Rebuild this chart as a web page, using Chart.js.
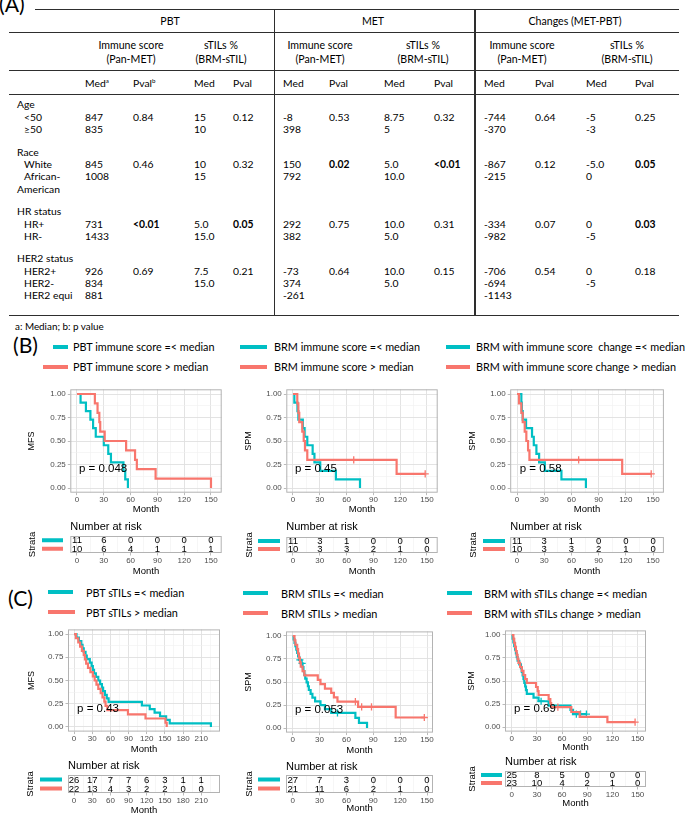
<!DOCTYPE html>
<html><head><meta charset="utf-8">
<script src="https://cdn.jsdelivr.net/npm/chart.js@4/dist/chart.umd.min.js"></script>
<style>
html,body{margin:0;padding:0;background:#fff;}
body{width:685px;height:814px;position:relative;overflow:hidden;}
#page{position:absolute;left:0;top:0;width:685px;height:814px;font-family:Lato,"Noto Sans",sans-serif;color:#000;}
.tx{position:absolute;white-space:nowrap;line-height:1;}
.ln{position:absolute;background:#2e2e2e;}
.sw{position:absolute;height:4px;}
canvas{position:absolute;}
</style></head><body><div id="page"></div>
<script>
// ================= DATA =================
// (A) table
const groupNames = ['PBT', 'MET', 'Changes (MET-PBT)'];
const measureLine1 = ['Immune score', 'sTILs %'];
const measureLine2 = ['(Pan-MET)', '(BRM-sTIL)'];
const rowLabels = ['Age','<50','\u226550','Race','White','African-','American','HR status','HR+','HR-','HER2 status','HER2+','HER2-','HER2 equi'];
const pbtImmMed = ['','847','835','','845','1008','','','731','1433','','926','834','881'];
const pbtImmP   = ['','0.84','','','0.46','','','','<0.01','','','0.69','',''];
const pbtTilMed = ['','15','10','','10','15','','','5.0','15.0','','7.5','15.0',''];
const pbtTilP   = ['','0.12','','','0.32','','','','0.05','','','0.21','',''];
const metImmMed = ['','-8','398','','150','792','','','292','382','','-73','374','-261'];
const metImmP   = ['','0.53','','','0.02','','','','0.75','','','0.64','',''];
const metTilMed = ['','8.75','5','','5.0','10.0','','','10.0','5.0','','10.0','5.0',''];
const metTilP   = ['','0.32','','','<0.01','','','','0.31','','','0.15','',''];
const chgImmMed = ['','-744','-370','','-867','-215','','','-334','-982','','-706','-694','-1143'];
const chgImmP   = ['','0.64','','','0.12','','','','0.07','','','0.54','',''];
const chgTilMed = ['','-5','-3','','-5.0','0','','','0','-5','','0','-5',''];
const chgTilP   = ['','0.25','','','0.05','','','','0.03','','','0.18','',''];
const footnote = 'a: Median; b: p value';

// (B) immune score Kaplan-Meier
const bL_tealT = [0,4,10,15,18,21,30,35,38,52,54,57];
const bL_tealS = [1,0.909,0.818,0.727,0.636,0.545,0.455,0.364,0.273,0.182,0.091,0];
const bL_redT  = [0,20,23,25,26,31,55,65,67,88,150];
const bL_redS  = [1,0.9,0.8,0.7,0.6,0.5,0.4,0.3,0.2,0.1,0];
const bM_tealT = [0,1.5,5,6,11,13,16,22,24,30.5,48,75];
const bM_tealS = [1,0.909,0.818,0.727,0.636,0.545,0.455,0.364,0.273,0.182,0.091,0];
const bM_redT  = [0,4.8,6,7,10.4,12,13.4,16,116,148];
const bM_redS  = [1,0.9,0.8,0.7,0.6,0.5,0.4,0.3,0.15,0.15];
const bM_redCensT = [68,148];
const bM_redCensS = [0.3,0.15];
const bR_tealT = [0,4.8,5.3,6.3,10,16.6,18.5,21.4,24.4,30.7,49,76];
const bR_tealS = [1,0.909,0.818,0.727,0.636,0.545,0.455,0.364,0.273,0.182,0.091,0];
const bR_redT  = [0,2.2,4.8,6.3,8.5,10.3,12.2,13.7,116,148];
const bR_redS  = [1,0.9,0.8,0.7,0.6,0.5,0.4,0.3,0.15,0.15];
const bR_redCensT = [68,148];
const bR_redCensS = [0.3,0.15];

// (C) sTILs Kaplan-Meier
const cL_tealT = [0,4,8,12,14,16,19,21,26,29,31,33,36,40,43,46,48,51,54,57,112,125,133,142,152,158,226];
const cL_tealS = [1,.962,.923,.885,.846,.808,.769,.731,.692,.654,.615,.577,.538,.5,.462,.423,.385,.346,.308,.269,.231,.192,.154,.115,.077,.038,0];
const cL_redT  = [0,3,7,10,13,16,18,20,23,27,31,34,37,40,44,47,50,52,55,89,118,151,153];
const cL_redS  = [1,.955,.909,.864,.818,.773,.727,.682,.636,.591,.545,.5,.455,.409,.364,.318,.273,.227,.182,.136,.091,.045,0];
const cM_tealT = [0,1,2,3,4,5,6,7,9,11,12,13,14,15.5,17,18,20,22,25,31,36,43,70,74,83];
const cM_tealS = [1,.963,.926,.889,.852,.815,.778,.741,.702,.661,.619,.578,.537,.495,.454,.413,.372,.330,.289,.248,.206,.165,.110,.055,0];
const cM_tealCensT = [8,10.5,50];
const cM_tealCensS = [.741,.702,.165];
const cM_redT  = [0,2,3,5,6,7,8,9,11,13,28,31,36,43,46,50,73,115,147];
const cM_redS  = [1,.952,.905,.857,.810,.762,.714,.667,.619,.571,.524,.476,.429,.381,.333,.286,.229,.114,.114];
const cM_redCensT = [70,77,88,147];
const cM_redCensS = [.286,.229,.229,.114];
const cR_tealT = [0,1,2,3,4,5,6,7,9,11,12,13,14,15,16,17,18,26,32,44,70,73,89];
const cR_tealS = [1,.96,.92,.88,.84,.8,.76,.72,.68,.64,.6,.56,.52,.48,.44,.40,.36,.32,.28,.233,.187,.14,.14];
const cR_tealCensT = [35,77,82,89];
const cR_tealCensS = [.28,.14,.14,.14];
const cR_redT  = [0,2,3,4,5,6,7,8,10,12,14,16,18,29,31,32,44,46,47,71,81,114,147];
const cR_redS  = [1,.957,.913,.870,.826,.783,.739,.696,.652,.609,.565,.522,.478,.435,.391,.348,.304,.261,.217,.163,.109,.054,.054];
const cR_redCensT = [55,147];
const cR_redCensS = [.217,.054];

// Numbers at risk
const riskTimesB  = [0,30,60,90,120,150];
const riskTimesCL = [0,30,60,90,120,150,180,210];
const bL_riskTeal = [11,6,0,0,0,0];
const bL_riskRed  = [10,6,4,1,1,1];
const bM_riskTeal = [11,3,1,0,0,0];
const bM_riskRed  = [10,3,3,2,1,0];
const bR_riskTeal = [11,3,1,0,0,0];
const bR_riskRed  = [10,3,3,2,1,0];
const cL_riskTeal = [26,17,7,7,6,3,1,1];
const cL_riskRed  = [22,13,4,3,2,2,0,0];
const cM_riskTeal = [27,7,3,0,0,0];
const cM_riskRed  = [21,11,6,2,1,0];
const cR_riskTeal = [25,8,5,0,0,0];
const cR_riskRed  = [23,10,4,2,1,0];

// Legends and p-values
const legendB = [['PBT immune score =< median','PBT immune score > median'],
                 ['BRM immune score =< median','BRM immune score > median'],
                 ['BRM with immune score  change =< median','BRM with immune score change > median']];
const legendC = [['PBT sTILs =< median','PBT sTILs > median'],
                 ['BRM sTILs =< median','BRM sTILs > median'],
                 ['BRM with sTILs change =< median','BRM with sTILs change > median']];
const pvalB = ['p = 0.048','p = 0.45','p = 0.58'];
const pvalC = ['p = 0.43','p = 0.053','p = 0.69'];
const yTitlesB = ['MFS','SPM','SPM'];
const yTitlesC = ['MFS','SPM','SPM'];

// ================= RENDER =================
const TEAL = '#00BFC4', RED = '#F8766D';
const page = document.getElementById('page');
const FAM = 'Lato, "Noto Sans", sans-serif';
const mctx = document.createElement('canvas').getContext('2d');
function fit(text, target, weight) {
  mctx.font = (weight || 'normal') + ' 100px Lato';
  return 100 * target / mctx.measureText(text).width;
}
function addText(html, x, y, size, opts) {
  opts = opts || {};
  const d = document.createElement('div');
  d.className = 'tx';
  d.innerHTML = html;
  d.style.left = x + 'px'; d.style.top = y + 'px';
  d.style.fontSize = size + 'px';
  if (opts.bold) d.style.fontWeight = 'bold';
  d.style.transform = 'translate(' + (opts.center ? '-50%' : '0') + ',-50%)';
  page.appendChild(d);
  return d;
}
function esc(s){return s.replace(/&/g,'&amp;').replace(/</g,'&lt;').replace(/>/g,'&gt;').replace(/  /g,' &nbsp;');}
function hline(x1, x2, y) { const d=document.createElement('div'); d.className='ln'; d.style.left=x1+'px'; d.style.width=(x2-x1)+'px'; d.style.top=(y-0.8)+'px'; d.style.height='1.6px'; page.appendChild(d); }
function vline(x, y1, y2) { const d=document.createElement('div'); d.className='ln'; d.style.left=(x-0.8)+'px'; d.style.width='1.6px'; d.style.top=y1+'px'; d.style.height=(y2-y1)+'px'; page.appendChild(d); }

// ----- Table (A)
const hdrSize = fit('Changes (MET-PBT)', 93);
const bodySize = fit('American', 43);
const footSize = fit(footnote, 89);
const panelSize = fit('(B)', 25);
addText('(A)', -1, 5, panelSize);
hline(35, 679, 9.3); hline(9, 679, 32.3); hline(9, 679, 70.7); hline(9, 679, 94.3); hline(9, 679, 315.7);
vline(274.5, 9.3, 315.7); vline(475, 9.3, 315.7);
const groupX = [170, 373, 575];
groupNames.forEach((g,i) => addText(esc(g), groupX[i], 20.5, hdrSize, {center:true}));
const measureX = [131, 221, 320, 423, 522, 627];
measureX.forEach((x,i) => { addText(esc(measureLine1[i%2]), x, 45, hdrSize, {center:true}); addText(esc(measureLine2[i%2]), x, 59, hdrSize, {center:true}); });
const colX = [85,133,194,233,283,329,384,434,484,535,586,635];
const supA = '<span style="font-size:0.6em;position:relative;top:-0.5em">a</span>';
const supB = '<span style="font-size:0.6em;position:relative;top:-0.5em">b</span>';
colX.forEach((x,i) => {
  let t = (i % 2 === 0) ? 'Med' : 'Pval';
  if (i === 0) t += supA; if (i === 1) t += supB;
  addText(t, x, 82.5, bodySize);
});
const rowY = [104,117,129,152,164,176,189,211,224,236,258,271,283,295];
const indentRows = [1,2,4,5,8,9,11,12,13];
rowLabels.forEach((r,i) => addText(esc(r), indentRows.includes(i) ? 24 : 17, rowY[i], bodySize));
const valueCols = [pbtImmMed,pbtImmP,pbtTilMed,pbtTilP,metImmMed,metImmP,metTilMed,metTilP,chgImmMed,chgImmP,chgTilMed,chgTilP];
valueCols.forEach((col,ci) => col.forEach((v,ri) => {
  if (!v) return;
  const isP = ci % 2 === 1;
  const bold = isP && parseFloat(v.replace('<','')) <= 0.05;
  addText(esc(v), colX[ci], rowY[ri], bodySize, {bold});
}));
addText(esc(footnote), 15, 327, footSize);

// ----- Legends
const legSize = fit(legendB[0][0], 142);
addText('(B)', 13, 346, panelSize);
addText('(C)', 8, 599, panelSize);
function legend(texts, y1, y2, sw1, sw2, tx) {
  [[sw1,y1,TEAL,texts[0]],[sw2,y2,RED,texts[1]]].forEach(([sw,y,c,t]) => {
    const d = document.createElement('div'); d.className='sw'; d.style.left=sw[0]+'px'; d.style.width=(sw[1]-sw[0])+'px'; d.style.top=(y-2)+'px'; d.style.background=c; page.appendChild(d);
    addText(esc(t), tx, y+0.5, legSize);
  });
}
legend(legendB[0], 346.5, 366.5, [53,68], [43,68], 73);
legend(legendB[1], 346.5, 366.5, [240,267], [240,267], 274);
legend(legendB[2], 346.5, 366.5, [446,470], [446,470], 476);
legend(legendC[0], 592, 612, [48,73], [48,75], 86);
legend(legendC[1], 593, 613, [243,268], [243,268], 281);
legend(legendC[2], 593, 613, [447,472], [447,472], 484);

// ----- Chart helpers
function tickList(min, max, step, last) {
  const out = [];
  for (let k = -1; k <= Math.round(last/step*2) + 1; k++) {
    const v = +(k*step/2).toFixed(6);
    if (v >= min - 1e-9 && v <= max + 1e-9) out.push(v);
  }
  return out;
}
function isMajor(v, step, last) { return v >= -1e-9 && v <= last + 1e-9 && Math.abs(v/step - Math.round(v/step)) < 1e-6; }
function pts(t, s) { return t.map((v,i) => ({x:v, y:s[i]})); }
const TICKFONT = {family:'"Liberation Sans", Arial, sans-serif', size:8};
function gridOpts(step, last) {
  return {
    drawTicks:true, tickLength:2.5,
    color: c => (c.tick && isMajor(c.tick.value, step, last)) ? '#e0e0e0' : '#f0f0f0',
    lineWidth: c => (c.tick && isMajor(c.tick.value, step, last)) ? 0.9 : 0.6,
    tickColor: c => (c.tick && isMajor(c.tick.value, step, last)) ? '#b3b3b3' : 'rgba(0,0,0,0)',
    tickWidth: 0.9
  };
}
function xScaleOpts(g, xH) {
  return {
    type:'linear', min:g.xmin, max:g.xmax,
    afterBuildTicks: s => { s.ticks = tickList(g.xmin, g.xmax, 30, g.last).map(v => ({value:v})); },
    afterFit: s => { s.height = xH; },
    ticks: {autoSkip:false, maxRotation:0, minRotation:0, padding:0, color:'#4d4d4d', font:TICKFONT,
      callback: v => isMajor(v, 30, g.last) ? String(Math.round(v)) : ''},
    grid: gridOpts(30, g.last),
    border: {display:false},
    title: {display:true, text:'Month', color:'#000', font:{family:'"Liberation Sans", Arial, sans-serif', size:9.5}, padding:0}
  };
}
const kmPlugin = {
  id:'km',
  afterDraw(chart, args, o) {
    const {ctx, chartArea:a, scales:{x,y}} = chart;
    ctx.save();
    ctx.strokeStyle = '#b3b3b3'; ctx.lineWidth = 1;
    ctx.strokeRect(a.left+0.5, a.top+0.5, a.right-a.left-1, a.bottom-a.top-1);
    ctx.fillStyle = '#000'; ctx.font = '11.5px "Liberation Sans", Arial, sans-serif';
    ctx.textAlign = 'left'; ctx.textBaseline = 'middle';
    ctx.fillText(o.text, x.getPixelForValue(o.px), y.getPixelForValue(o.py));
    ctx.restore();
  }
};
const riskPlugin = {
  id:'risk',
  afterDraw(chart, args, o) {
    const {ctx, chartArea:a, scales:{x,y}} = chart;
    ctx.save();
    ctx.strokeStyle = '#b3b3b3'; ctx.lineWidth = 1;
    ctx.strokeRect(a.left+0.5, a.top+0.5, a.right-a.left-1, a.bottom-a.top-1);
    ctx.textAlign = 'center'; ctx.textBaseline = 'middle';
    o.rows.forEach(r => {
      const py = y.getPixelForValue(r.level);
      ctx.fillStyle = r.color; ctx.fillRect(o.swL, py-2, o.swR-o.swL, 4);
      ctx.fillStyle = '#000'; ctx.font = '9.5px "Liberation Sans Narrow", "Liberation Sans", Arial, sans-serif';
      r.vals.forEach((v,i) => ctx.fillText(String(v), x.getPixelForValue(o.times[i]), py+0.5));
    });
    ctx.save();
    ctx.translate(o.strataX, (a.top+a.bottom)/2); ctx.rotate(-Math.PI/2);
    ctx.font = '9.5px "Liberation Sans", Arial, sans-serif'; ctx.fillStyle = '#000';
    ctx.fillText('Strata', 0, 0);
    ctx.restore();
    ctx.font = '11px "Liberation Sans", Arial, sans-serif'; ctx.textAlign = 'left'; ctx.fillStyle = '#000';
    ctx.fillText('Number at risk', a.left, o.narY);
    ctx.restore();
  }
};
function makeCanvas(l, t, w, h) {
  const cv = document.createElement('canvas');
  cv.width = w; cv.height = h; cv.style.left = l+'px'; cv.style.top = t+'px';
  cv.style.width = w+'px'; cv.style.height = h+'px';
  page.appendChild(cv); return cv;
}
function drawKM(g, series, pText, yTitle) {
  const cl = Math.floor(g.yTitleX - 5.4);
  const ct = Math.floor(g.T - 10);
  const cw = Math.ceil(g.R + 8 - cl);
  const ch = Math.ceil(g.monthY + 5.7 - ct);
  const yW = g.L - cl, padTop = g.T - ct, padRight = cl + cw - g.R, xH = ct + ch - g.B;
  const cv = makeCanvas(cl, ct, cw, ch);
  const ds = [];
  series.forEach(sr => {
    ds.push({label:sr.label, data:pts(sr.t, sr.s), borderColor:sr.color, backgroundColor:sr.color,
      borderWidth:2.2, pointRadius:0, stepped:true, fill:false, borderCapStyle:'butt', borderJoinStyle:'miter'});
    if (sr.ct) ds.push({label:sr.label+' (censored)', data:pts(sr.ct, sr.cs), showLine:false, pointStyle:'cross',
      pointRadius:3.6, pointBorderWidth:1.3, borderColor:sr.color, pointBorderColor:sr.color, backgroundColor:sr.color});
  });
  ds.reverse();
  new Chart(cv, {
    type:'line', data:{datasets:ds},
    options:{
      responsive:false, animation:false, devicePixelRatio:1, events:[],
      layout:{padding:{left:0, top:padTop, right:padRight, bottom:0}},
      scales:{
        x: xScaleOpts(g, xH),
        y: {type:'linear', min:-0.05, max:1.05,
          afterBuildTicks: s => { s.ticks = tickList(-0.05, 1.05, 0.25, 1).map(v => ({value:v})); },
          afterFit: s => { s.width = yW; },
          ticks:{autoSkip:false, padding:2, color:'#4d4d4d', font:TICKFONT, callback: v => isMajor(v, 0.25, 1) ? v.toFixed(2) : ''},
          grid: gridOpts(0.25, 1),
          border:{display:false},
          title:{display:true, text:yTitle, color:'#000', font:{family:'"Liberation Sans", Arial, sans-serif', size:9}, padding:0}}
      },
      plugins:{legend:{display:false}, tooltip:{enabled:false}, km:{text:pText, px:g.px, py:0.2}}
    },
    plugins:[kmPlugin]
  });
}
function drawRisk(g, r, times, teal, red) {
  const cl = Math.floor(r.strataX - 7);
  const ct = Math.floor(r.narY - 8);
  const cw = Math.ceil(g.R + 8 - cl);
  const ch = Math.ceil(r.monthY + 5.7 - ct);
  const padLeft = g.L - cl, padTop = r.T - ct, padRight = cl + cw - g.R, xH = ct + ch - r.B;
  const cv = makeCanvas(cl, ct, cw, ch);
  new Chart(cv, {
    type:'line', data:{datasets:[]},
    options:{
      responsive:false, animation:false, devicePixelRatio:1, events:[],
      layout:{padding:{left:padLeft, top:padTop, right:padRight, bottom:0}},
      scales:{ x: xScaleOpts(g, xH), y:{type:'linear', display:false, min:0, max:2} },
      plugins:{legend:{display:false}, tooltip:{enabled:false},
        risk:{times, rows:[{level:1.5, color:TEAL, vals:teal},{level:0.5, color:RED, vals:red}],
          swL:r.swL-cl, swR:r.swR-cl, strataX:r.strataX-cl, narY:r.narY-ct}}
    },
    plugins:[riskPlugin]
  });
}

// ----- Geometry (pixel layout of panels)
const GB = [
  {L:70.3, R:221.7, T:389.3, B:492.7, xmin:-7.5, xmax:162, last:150, yTitleX:32, monthY:509, px:2.2},
  {L:286.3, R:437.7, T:389.3, B:492.7, xmin:-7.5, xmax:162, last:150, yTitleX:249, monthY:509, px:2.2},
  {L:510.2, R:663.9, T:389.3, B:492.7, xmin:-7.5, xmax:162, last:150, yTitleX:473, monthY:509, px:3}
];
const RB = [
  {T:536, B:553, narY:527, monthY:571, swL:42, swR:63, strataX:32},
  {T:537, B:553, narY:527, monthY:571, swL:258, swR:280, strataX:249},
  {T:537, B:553, narY:527, monthY:571, swL:483, swR:505, strataX:473}
];
const GC = [
  {L:68, R:220, T:629.4, B:731.6, xmin:-10, xmax:241, last:210, yTitleX:32, monthY:749, px:5},
  {L:286, R:433, T:631.4, B:732.6, xmin:-7.5, xmax:156.7, last:150, yTitleX:249, monthY:750, px:2.5},
  {L:505, R:646, T:630.4, B:731.6, xmin:-8, xmax:160, last:150, yTitleX:472, monthY:747, px:2.7}
];
const RC = [
  {T:775, B:793, narY:766, monthY:810, swL:40, swR:62, strataX:30},
  {T:775, B:793, narY:767, monthY:808, swL:258, swR:280, strataX:249},
  {T:771, B:787, narY:762, monthY:803, swL:481, swR:502, strataX:472}
];

drawKM(GB[0], [{t:bL_tealT, s:bL_tealS, color:TEAL, label:legendB[0][0]}, {t:bL_redT, s:bL_redS, color:RED, label:legendB[0][1]}], pvalB[0], yTitlesB[0]);
drawKM(GB[1], [{t:bM_tealT, s:bM_tealS, color:TEAL, label:legendB[1][0]}, {t:bM_redT, s:bM_redS, ct:bM_redCensT, cs:bM_redCensS, color:RED, label:legendB[1][1]}], pvalB[1], yTitlesB[1]);
drawKM(GB[2], [{t:bR_tealT, s:bR_tealS, color:TEAL, label:legendB[2][0]}, {t:bR_redT, s:bR_redS, ct:bR_redCensT, cs:bR_redCensS, color:RED, label:legendB[2][1]}], pvalB[2], yTitlesB[2]);
drawRisk(GB[0], RB[0], riskTimesB, bL_riskTeal, bL_riskRed);
drawRisk(GB[1], RB[1], riskTimesB, bM_riskTeal, bM_riskRed);
drawRisk(GB[2], RB[2], riskTimesB, bR_riskTeal, bR_riskRed);

drawKM(GC[0], [{t:cL_tealT, s:cL_tealS, color:TEAL, label:legendC[0][0]}, {t:cL_redT, s:cL_redS, color:RED, label:legendC[0][1]}], pvalC[0], yTitlesC[0]);
drawKM(GC[1], [{t:cM_tealT, s:cM_tealS, ct:cM_tealCensT, cs:cM_tealCensS, color:TEAL, label:legendC[1][0]}, {t:cM_redT, s:cM_redS, ct:cM_redCensT, cs:cM_redCensS, color:RED, label:legendC[1][1]}], pvalC[1], yTitlesC[1]);
drawKM(GC[2], [{t:cR_tealT, s:cR_tealS, ct:cR_tealCensT, cs:cR_tealCensS, color:TEAL, label:legendC[2][0]}, {t:cR_redT, s:cR_redS, ct:cR_redCensT, cs:cR_redCensS, color:RED, label:legendC[2][1]}], pvalC[2], yTitlesC[2]);
drawRisk(GC[0], RC[0], riskTimesCL, cL_riskTeal, cL_riskRed);
drawRisk(GC[1], RC[1], riskTimesB, cM_riskTeal, cM_riskRed);
drawRisk(GC[2], RC[2], riskTimesB, cR_riskTeal, cR_riskRed);
</script></body></html>
